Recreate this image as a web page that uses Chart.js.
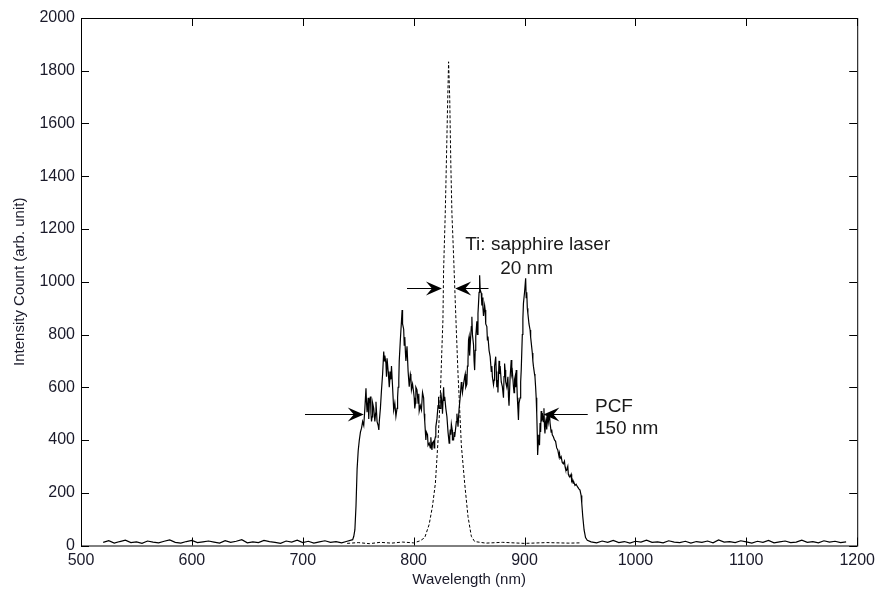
<!DOCTYPE html>
<html>
<head>
<meta charset="utf-8">
<script src="https://cdn.jsdelivr.net/npm/chart.js@4"></script>
<style>
  body { margin: 0; background: #fff; }
  #wrap { width: 880px; height: 594px; }
</style>
</head>
<body>
<div id="wrap"><canvas id="myChart" width="880" height="594"></canvas></div>
<script>
const ctx = document.getElementById('myChart');

// PCF output spectrum (solid)
const pcfWl = [
  520,525,530,535,540,545,550,555,560,565, 570,575,580,585,590,595,600,605,610,615,
  620,625,630,635,640,645,650,655,660,665, 670,675,680,685,690,695,700,705,710,715,
  720,725,730,735,740,
  745,746,747,748,749,750,751,752,753,754, 755,756,757,757.5,758,759,759.5,760,761,761.5,
  762,762.5,763,764,765,765.7,766,767,768,768.6, 769,770,771,772,773,773.5,774,775,775.5,776,
  777,777.6,778,779,779.5,780,781,782,783,784, 785,785.5,786,786.6,787,788,789,789.6,790,791,
  791.5,792,792.6,793,794,795,796,797,797.5,798, 799,800,800.5,801,801.6,802,803,804,804.6,805,
  806,807,808,809,809.5,810,811,811.5,812.5,813, 814,815,815.5,816,816.5,817,818,818.5,819,819.6,
  820,821,822,822.5,823,824,824.5,825,825.6,826, 827,827.5,828,829,830,831,832,832.5,833,833.5,
  834,834.8,835,836,836.5,837,838,838.5,839,840, 841,842,843,843.5,844,845,846,846.5,847,848,
  848.5,849,849.5,850,850.5,851,852,852.5,853,854, 854.5,855,855.5,856,857,857.5,858,858.5,859,859.5,
  860,861,861.5,862,862.5,863,864,864.5,865,866, 866.5,867,868,869,870,870.5,871,872,872.5,873,
  874,874.5,875,875.8,876,877,877.5,878,879,880, 881,881.5,882,882.5,883,884,885,885.5,886,887,
  888,888.5,889,890,890.5,891,891.5,892,892.5,893, 893.5,894,894.5,895,896,896.5,897,898,898.5,899,
  900,901,901.5,902,902.5,903,904,905,905.5,906, 907,907.5,908,909,909.4,910,910.5,911,911.5,911.8,
  912.5,913,913.5,914,914.5,915,915.5,916,917,917.5, 918,918.4,919,919.5,920,921,921.5,922,922.5,923,
  924,924.5,925,926,927,928,929,930,931,931.5, 932,933,934,935,936,936.5,937,938,939,939.5,
  940,941,942,942.5,943,943.8,944.5,945.5,946.5,947.7, 949,950,951,951.6,952.5,953.7,955,956.6,
  960,965,970,975,980,985,990,995,1000,1005, 1010,1015,1020,1025,1030,1035,1040,1045,1050,1055,
  1060,1065,1070,1075,1080,1085,1090,1095,1100,1105, 1110,1115,1120,1125,1130,1135,1140,1145,1150,1155,
  1160,1165,1170,1175,1180,1185,1190];
const pcfInt = [
  12,18,9,15,20,11,14,8,17,13, 10,16,21,12,9,15,19,11,14,17,
  13,9,18,12,16,22,10,14,11,19, 15,12,8,17,13,20,11,16,9,14,
  18,12,15,10,16,
  22,35,60,150,290,360,400,430,445,470, 455,520,596,540,505,560,480,540,565,500,
  470,488,540,520,470,502,545,470,455,438, 470,520,590,650,735,700,720,690,640,710,
  660,627,600,660,630,680,600,514,540,490, 520,560,600,627,700,780,850,893,840,820,
  760,790,730,700,755,660,602,650,640,590, 612,580,560,520,540,600,590,540,575,510,
  530,514,580,560,500,470,400,430,420,380, 388,370,410,380,362,390,395,370,400,412,
  450,480,530,564,520,520,580,560,540,500, 600,550,564,520,488,430,388,410,440,420,
  460,438,400,400,430,412,450,470,500,450, 520,564,620,600,580,612,640,650,600,612,
  680,700,780,792,720,760,830,867,800,760, 700,665,740,792,850,800,880,918,960,1025,
  970,956,910,940,900,870,910,893,840,830, 780,792,740,716,660,680,640,610,627,680,
  716,660,600,627,580,700,650,680,620,602, 560,640,690,665,620,600,640,564,530,640,
  703,650,660,602,580,630,640,600,665,620, 560,520,476,540,560,620,665,800,860,918,
  960,1013,940,960,900,880,840,817,790,770, 730,700,680,650,640,600,560,500,420,343,
  400,420,380,464,430,510,470,502,470,520, 450,425,470,480,440,502,470,470,500,464,
  430,440,420,412,400,395,370,362,340,350, 330,337,315,310,320,300,290,286,300,270,
  265,261,270,245,250,236,240,228,232,223, 215,210,190,160,110,59,30,20,
  14,10,17,12,19,11,15,9,16,13, 20,12,14,10,18,13,11,16,9,15,
  12,17,10,21,13,15,11,18,14,9, 16,12,19,10,14,17,11,13,20,12,
  15,10,18,13,16,11,14];

// Ti:sapphire laser spectrum (dashed)
const laserWl = [740,750,760,770,780,790,800,806,810,814,817,819.6,822,824,825.5,826.4,827,828.5,829.5,830.5,831.5,832.5,833.5,834.5,836,838,840,841,843,846,849,852,855,865,880,900,920,940,950];
const laserInt = [8,11,7,12,9,13,10,18,30,80,150,236,400,564,750,855,1044,1260,1450,1650,1834,1700,1450,1260,1100,870,650,564,380,236,110,35,15,9,12,8,11,9,10];

// annotations: [from x, arrow tip x, y] in data units
const arrows = [[702, 755, 500], [957, 917, 500], [794, 825.5, 975], [867.5, 837.5, 975]];
const notes = [
  {text: 'Ti: sapphire laser', x: 846.5, y: 1120},
  {text: '20 nm', x: 878, y: 1029},
  {text: 'PCF', x: 963.5, y: 505},
  {text: '150 nm', x: 963.5, y: 423}
];

const xTicks = [500,600,700,800,900,1000,1100,1200];
const yTicks = [0,200,400,600,800,1000,1200,1400,1600,1800,2000];

const toPts = (xs, ys) => xs.map((x, i) => ({x: x, y: ys[i]}));

const boxPlugin = {
  id: 'box',
  afterDatasetsDraw(chart) {
    const c = chart.ctx, a = chart.chartArea;
    const xs = chart.scales.x, ys = chart.scales.y;
    c.save();
    c.strokeStyle = '#000';
    c.lineWidth = 1;
    c.strokeRect(a.left + 0.5, a.top + 0.5, a.right - a.left, a.bottom - a.top);
    c.beginPath();
    xTicks.forEach(v => {
      const px = Math.round(xs.getPixelForValue(v)) + 0.5;
      c.moveTo(px, a.bottom); c.lineTo(px, a.bottom - 8);
      c.moveTo(px, a.top); c.lineTo(px, a.top + 8);
    });
    yTicks.forEach(v => {
      const py = Math.round(ys.getPixelForValue(v)) + 0.5;
      c.moveTo(a.left, py); c.lineTo(a.left + 8, py);
      c.moveTo(a.right, py); c.lineTo(a.right - 8, py);
    });
    c.stroke();

    // arrows
    arrows.forEach(([x1, x2, y]) => {
      const p1 = xs.getPixelForValue(x1), p2 = xs.getPixelForValue(x2);
      const py = Math.round(ys.getPixelForValue(y)) + 0.5;
      const d = p2 > p1 ? 1 : -1;
      c.beginPath();
      c.moveTo(p1, py); c.lineTo(p2 - d * 8, py);
      c.stroke();
      c.beginPath();
      c.moveTo(p2, py);
      c.lineTo(p2 - d * 16, py - 7);
      c.lineTo(p2 - d * 10, py);
      c.lineTo(p2 - d * 16, py + 7);
      c.closePath();
      c.fillStyle = '#000';
      c.fill();
    });

    c.fillStyle = '#1a1a1a';
    c.font = '19px "Liberation Sans", Arial, sans-serif';
    c.textBaseline = 'alphabetic';
    c.textAlign = 'left';
    notes.forEach(n => c.fillText(n.text, xs.getPixelForValue(n.x), ys.getPixelForValue(n.y)));
    c.restore();
  }
};

const tickFont = { family: '"Liberation Sans", Arial', size: 16 };
const titleFont = { family: '"Liberation Sans", Arial', size: 15 };

new Chart(ctx, {
  type: 'scatter',
  data: {
    datasets: [
      {
        label: 'PCF',
        data: toPts(pcfWl, pcfInt),
        showLine: true,
        borderColor: '#000',
        borderWidth: 1.2,
        pointRadius: 0,
        tension: 0
      },
      {
        label: 'Ti: sapphire laser',
        data: toPts(laserWl, laserInt),
        showLine: true,
        borderColor: '#000',
        borderWidth: 1,
        borderDash: [3, 2],
        pointRadius: 0,
        tension: 0
      }
    ]
  },
  options: {
    responsive: false,
    animation: false,
    layout: { padding: { top: 18, right: 19, left: 0, bottom: 0 } },
    plugins: { legend: { display: false }, tooltip: { enabled: false } },
    scales: {
      x: {
        type: 'linear',
        min: 500,
        max: 1200,
        afterBuildTicks: s => { s.ticks = xTicks.map(v => ({value: v})); },
        afterFit: s => { s.height = 48.5; },
        grid: { display: false, drawTicks: false },
        border: { display: false },
        ticks: { color: '#1a1a2a', padding: 5, maxRotation: 0, font: tickFont, callback: v => String(v) },
        title: { display: true, text: 'Wavelength (nm)', color: '#1a1a2a', padding: { top: 0, bottom: 5 }, font: titleFont }
      },
      y: {
        min: 0,
        max: 2000,
        afterBuildTicks: s => { s.ticks = yTicks.map(v => ({value: v})); },
        afterFit: s => { s.width = 81; },
        grid: { display: false, drawTicks: false },
        border: { display: false },
        ticks: { color: '#1a1a2a', padding: 6, font: tickFont, callback: v => String(v) },
        title: { display: true, text: 'Intensity Count (arb. unit)', color: '#1a1a2a', padding: { top: 11, bottom: 0 }, font: titleFont }
      }
    }
  },
  plugins: [boxPlugin]
});
</script>
</body>
</html>
